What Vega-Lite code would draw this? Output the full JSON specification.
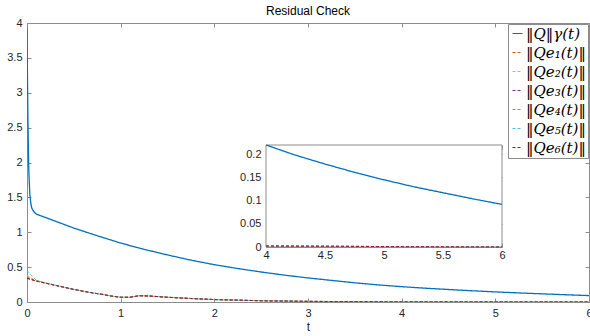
{
  "$schema": "https://vega.github.io/schema/vega-lite/v6.json",
  "width": 562,
  "height": 279,
  "autosize": {"type": "none"},
  "padding": {"left": 27, "top": 23, "right": 1, "bottom": 34},
  "background": "white",
  "title": {"text": "Residual Check", "fontSize": 12, "fontWeight": "normal", "font": "Liberation Sans", "color": "#000000", "offset": -1},
  "config": {
    "view": {"stroke": "#8c8c8c", "strokeWidth": 1},
    "axis": {"labelFont": "Liberation Sans", "labelFontSize": 11, "labelColor": "#262626", "domainColor": "#8c8c8c", "tickColor": "#8c8c8c", "grid": false, "titleFont": "Liberation Sans", "titleFontWeight": "normal", "titleFontSize": 12, "titleColor": "#262626", "format": "~g"},
    "legend": {"orient": "top-right", "offset": 1, "title": null, "padding": 2, "fillColor": "white", "strokeColor": "#8c8c8c", "labelFont": "DejaVu Serif", "labelFontStyle": "italic", "labelFontSize": 15, "labelColor": "#000000", "symbolType": "stroke", "symbolSize": 100, "symbolStrokeWidth": 1.2, "rowPadding": 3, "labelOffset": 1, "cornerRadius": 0}
  },
  "datasets": {
    "q": [
      {"t": 0, "v": 3.92, "s": "q"}, {"t": 0.005, "v": 3.2, "s": "q"}, {"t": 0.01, "v": 2.6, "s": "q"},
      {"t": 0.015, "v": 2.15, "s": "q"}, {"t": 0.02, "v": 1.85, "s": "q"}, {"t": 0.03, "v": 1.55, "s": "q"},
      {"t": 0.04, "v": 1.42, "s": "q"}, {"t": 0.05, "v": 1.35, "s": "q"}, {"t": 0.07, "v": 1.3, "s": "q"},
      {"t": 0.1, "v": 1.26, "s": "q"}, {"t": 0.15, "v": 1.235, "s": "q"}, {"t": 0.2, "v": 1.21, "s": "q"},
      {"t": 0.3, "v": 1.16, "s": "q"}, {"t": 0.4, "v": 1.11, "s": "q"}, {"t": 0.5, "v": 1.06, "s": "q"},
      {"t": 0.75, "v": 0.95, "s": "q"}, {"t": 1, "v": 0.845, "s": "q"}, {"t": 1.25, "v": 0.755, "s": "q"},
      {"t": 1.5, "v": 0.675, "s": "q"}, {"t": 1.75, "v": 0.6, "s": "q"}, {"t": 2, "v": 0.535, "s": "q"},
      {"t": 2.25, "v": 0.48, "s": "q"}, {"t": 2.5, "v": 0.43, "s": "q"}, {"t": 2.75, "v": 0.385, "s": "q"},
      {"t": 3, "v": 0.345, "s": "q"}, {"t": 3.25, "v": 0.31, "s": "q"}, {"t": 3.5, "v": 0.275, "s": "q"},
      {"t": 3.75, "v": 0.245, "s": "q"}, {"t": 4, "v": 0.22, "s": "q"}, {"t": 4.25, "v": 0.198, "s": "q"},
      {"t": 4.5, "v": 0.179, "s": "q"}, {"t": 4.75, "v": 0.161, "s": "q"}, {"t": 5, "v": 0.145, "s": "q"},
      {"t": 5.25, "v": 0.13, "s": "q"}, {"t": 5.5, "v": 0.117, "s": "q"}, {"t": 5.75, "v": 0.104, "s": "q"},
      {"t": 6, "v": 0.092, "s": "q"}
    ],
    "e": [
      {"t": 0, "e1": 0.34, "e2": 0.38, "e3": 0.35, "e4": 0.36, "e5": 0.45, "e6": 0.34},
      {"t": 0.1, "e1": 0.3, "e2": 0.305, "e3": 0.3, "e4": 0.302, "e5": 0.31, "e6": 0.3},
      {"t": 0.2, "e1": 0.27, "e2": 0.272, "e3": 0.27, "e4": 0.271, "e5": 0.273, "e6": 0.27},
      {"t": 0.3, "e1": 0.24, "e2": 0.241, "e3": 0.24, "e4": 0.24, "e5": 0.242, "e6": 0.24},
      {"t": 0.4, "e1": 0.21, "e2": 0.211, "e3": 0.21, "e4": 0.21, "e5": 0.211, "e6": 0.21},
      {"t": 0.5, "e1": 0.18, "e2": 0.181, "e3": 0.18, "e4": 0.18, "e5": 0.181, "e6": 0.18},
      {"t": 0.6, "e1": 0.155, "e2": 0.155, "e3": 0.155, "e4": 0.155, "e5": 0.156, "e6": 0.155},
      {"t": 0.7, "e1": 0.13, "e2": 0.13, "e3": 0.13, "e4": 0.13, "e5": 0.131, "e6": 0.13},
      {"t": 0.8, "e1": 0.11, "e2": 0.11, "e3": 0.11, "e4": 0.11, "e5": 0.11, "e6": 0.11},
      {"t": 0.9, "e1": 0.085, "e2": 0.086, "e3": 0.085, "e4": 0.085, "e5": 0.086, "e6": 0.085},
      {"t": 1.0, "e1": 0.068, "e2": 0.068, "e3": 0.068, "e4": 0.068, "e5": 0.069, "e6": 0.068},
      {"t": 1.1, "e1": 0.068, "e2": 0.068, "e3": 0.068, "e4": 0.068, "e5": 0.068, "e6": 0.068},
      {"t": 1.2, "e1": 0.09, "e2": 0.09, "e3": 0.09, "e4": 0.09, "e5": 0.091, "e6": 0.09},
      {"t": 1.3, "e1": 0.086, "e2": 0.086, "e3": 0.086, "e4": 0.086, "e5": 0.086, "e6": 0.086},
      {"t": 1.4, "e1": 0.077, "e2": 0.077, "e3": 0.077, "e4": 0.077, "e5": 0.077, "e6": 0.077},
      {"t": 1.5, "e1": 0.068, "e2": 0.068, "e3": 0.068, "e4": 0.068, "e5": 0.068, "e6": 0.068},
      {"t": 1.75, "e1": 0.05, "e2": 0.05, "e3": 0.05, "e4": 0.05, "e5": 0.05, "e6": 0.05},
      {"t": 2.0, "e1": 0.035, "e2": 0.035, "e3": 0.035, "e4": 0.035, "e5": 0.035, "e6": 0.035},
      {"t": 2.5, "e1": 0.018, "e2": 0.018, "e3": 0.018, "e4": 0.018, "e5": 0.018, "e6": 0.018},
      {"t": 3.0, "e1": 0.009, "e2": 0.009, "e3": 0.009, "e4": 0.009, "e5": 0.009, "e6": 0.009},
      {"t": 3.5, "e1": 0.005, "e2": 0.005, "e3": 0.005, "e4": 0.005, "e5": 0.005, "e6": 0.005},
      {"t": 4.0, "e1": 0.002, "e2": 0.002, "e3": 0.002, "e4": 0.002, "e5": 0.002, "e6": 0.002},
      {"t": 5.0, "e1": 0.001, "e2": 0.001, "e3": 0.001, "e4": 0.001, "e5": 0.001, "e6": 0.001},
      {"t": 6.0, "e1": 0, "e2": 0, "e3": 0, "e4": 0, "e5": 0, "e6": 0}
    ],
    "frame": [{"t": 4, "t2": 6, "v": 0, "v2": 0.22}]
  },
  "layer": [
    {
      "encoding": {
        "x": {"field": "t", "type": "quantitative", "scale": {"domain": [0, 6], "nice": false, "zero": false}, "axis": {"values": [0, 1, 2, 3, 4, 5, 6], "title": "t", "tickSize": -4, "labelPadding": 9, "titlePadding": 3, "labelFlush": false}},
        "y": {"field": "v", "type": "quantitative", "scale": {"domain": [0, 4], "nice": false}, "axis": {"values": [0, 0.5, 1, 1.5, 2, 2.5, 3, 3.5, 4], "title": null, "tickSize": -4, "labelPadding": 9, "labelFlush": false}},
        "color": {"field": "s", "type": "nominal", "scale": {"domain": ["q", "e1", "e2", "e3", "e4", "e5", "e6"], "range": ["#0072BD", "#D95319", "#EDB120", "#7E2F8E", "#77AC30", "#4DBEEE", "#A2142F"]}, "legend": {"labelExpr": "{'q':'‖Q‖γ(t)','e1':'‖Qe₁(t)‖','e2':'‖Qe₂(t)‖','e3':'‖Qe₃(t)‖','e4':'‖Qe₄(t)‖','e5':'‖Qe₅(t)‖','e6':'‖Qe₆(t)‖'}[datum.value]"}},
        "strokeDash": {"field": "s", "type": "nominal", "scale": {"domain": ["q", "e1", "e2", "e3", "e4", "e5", "e6"], "range": [[1, 0], [3, 2], [3, 2], [3, 2], [3, 2], [3, 2], [3, 2]]}, "legend": {"labelExpr": "{'q':'‖Q‖γ(t)','e1':'‖Qe₁(t)‖','e2':'‖Qe₂(t)‖','e3':'‖Qe₃(t)‖','e4':'‖Qe₄(t)‖','e5':'‖Qe₅(t)‖','e6':'‖Qe₆(t)‖'}[datum.value]"}}
      },
      "layer": [
        {"data": {"name": "e"}, "transform": [{"fold": ["e1", "e2", "e3", "e4", "e5", "e6"], "as": ["s", "v"]}], "mark": {"type": "line", "strokeWidth": 1, "clip": true}},
        {"data": {"name": "q"}, "mark": {"type": "line", "strokeWidth": 1.3, "clip": true}}
      ]
    },
    {
      "data": {"name": "frame"},
      "mark": {"type": "point", "opacity": 0},
      "encoding": {
        "x": {"field": "t", "type": "quantitative", "scale": {"domain": [0, 6], "nice": false, "zero": false}, "axis": {"values": [0, 1, 2, 3, 4, 5, 6], "title": null, "orient": "top", "labels": false, "domain": false, "tickSize": -4}},
        "y": {"field": "v", "type": "quantitative", "scale": {"domain": [0, 4], "nice": false}, "axis": {"values": [0, 0.5, 1, 1.5, 2, 2.5, 3, 3.5, 4], "title": null, "orient": "right", "labels": false, "domain": false, "tickSize": -4}}
      }
    },
    {
      "encoding": {
        "x": {"field": "t", "type": "quantitative", "scale": {"domain": [4, 6], "range": [239, 475], "nice": false, "zero": false}, "axis": {"values": [4, 4.5, 5, 5.5, 6], "title": null, "orient": "bottom", "offset": -55, "tickSize": -4, "labelPadding": 6, "labelFlush": false}},
        "y": {"field": "v", "type": "quantitative", "scale": {"domain": [0, 0.22], "range": [224, 122], "nice": false}, "axis": {"values": [0, 0.05, 0.1, 0.15, 0.2], "title": null, "orient": "left", "offset": -239, "tickSize": -4, "labelPadding": 9, "labelFlush": false}}
      },
      "layer": [
        {"data": {"name": "frame"}, "mark": {"type": "rect", "fill": "white", "stroke": "#8c8c8c", "strokeWidth": 1}, "encoding": {"x2": {"field": "t2"}, "y2": {"field": "v2"}}},
        {"data": {"name": "e"}, "transform": [{"filter": "datum.t >= 4"}, {"fold": ["e1", "e2", "e3", "e4", "e5", "e6"], "as": ["s", "v"]}], "mark": {"type": "line", "strokeWidth": 1},
          "encoding": {
            "color": {"field": "s", "type": "nominal", "legend": {"labelExpr": "{'q':'‖Q‖γ(t)','e1':'‖Qe₁(t)‖','e2':'‖Qe₂(t)‖','e3':'‖Qe₃(t)‖','e4':'‖Qe₄(t)‖','e5':'‖Qe₅(t)‖','e6':'‖Qe₆(t)‖'}[datum.value]"}},
            "strokeDash": {"field": "s", "type": "nominal", "legend": {"labelExpr": "{'q':'‖Q‖γ(t)','e1':'‖Qe₁(t)‖','e2':'‖Qe₂(t)‖','e3':'‖Qe₃(t)‖','e4':'‖Qe₄(t)‖','e5':'‖Qe₅(t)‖','e6':'‖Qe₆(t)‖'}[datum.value]"}}
          }},
        {"data": {"name": "q"}, "transform": [{"filter": "datum.t >= 4"}], "mark": {"type": "line", "strokeWidth": 1.3},
          "encoding": {
            "color": {"field": "s", "type": "nominal", "legend": {"labelExpr": "{'q':'‖Q‖γ(t)','e1':'‖Qe₁(t)‖','e2':'‖Qe₂(t)‖','e3':'‖Qe₃(t)‖','e4':'‖Qe₄(t)‖','e5':'‖Qe₅(t)‖','e6':'‖Qe₆(t)‖'}[datum.value]"}},
            "strokeDash": {"field": "s", "type": "nominal", "legend": {"labelExpr": "{'q':'‖Q‖γ(t)','e1':'‖Qe₁(t)‖','e2':'‖Qe₂(t)‖','e3':'‖Qe₃(t)‖','e4':'‖Qe₄(t)‖','e5':'‖Qe₅(t)‖','e6':'‖Qe₆(t)‖'}[datum.value]"}}
          }}
      ]
    },
    {
      "data": {"name": "frame"},
      "mark": {"type": "point", "opacity": 0},
      "encoding": {
        "x": {"field": "t", "type": "quantitative", "scale": {"domain": [4, 6], "range": [239, 475], "nice": false, "zero": false}, "axis": {"values": [4, 4.5, 5, 5.5, 6], "title": null, "orient": "top", "offset": -122, "labels": false, "domain": false, "tickSize": -4}},
        "y": {"field": "v", "type": "quantitative", "scale": {"domain": [0, 0.22], "range": [224, 122], "nice": false}, "axis": {"values": [0, 0.05, 0.1, 0.15, 0.2], "title": null, "orient": "right", "offset": -87, "labels": false, "domain": false, "tickSize": -4}}
      }
    }
  ],
  "resolve": {"scale": {"x": "independent", "y": "independent"}}
}
